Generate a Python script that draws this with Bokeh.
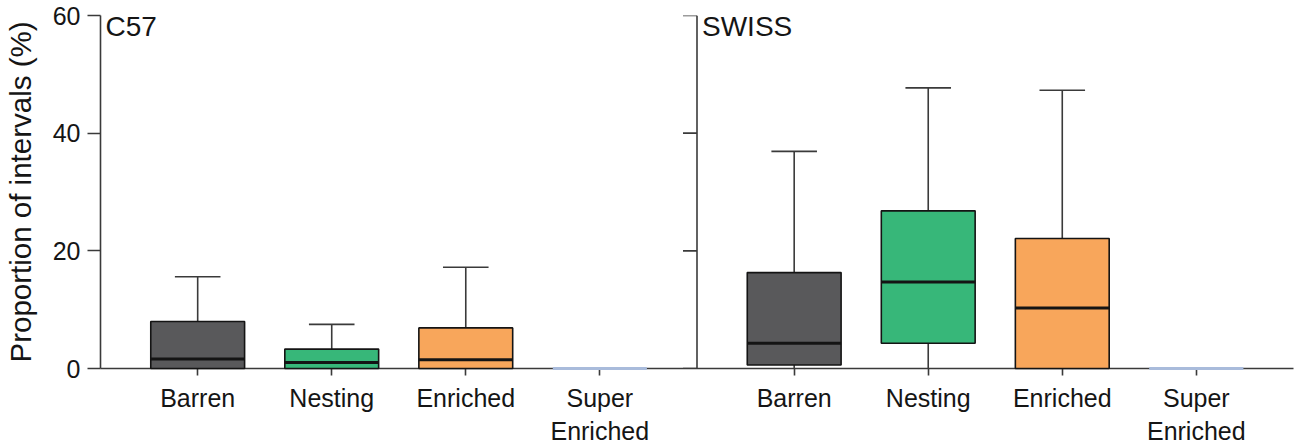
import numpy as np
from bokeh.plotting import figure
from bokeh.models import Span, Label, FixedTicker, Range1d
from bokeh.embed import file_html
from bokeh.resources import INLINE

# ---- data ----
panels = ["C57", "SWISS"]
categories = ["Barren", "Nesting", "Enriched", "Super\nEnriched"]
# box-plot summaries per category: lower whisker, Q1, median, Q3, upper whisker
c57_low = [0.0, 0.0, 0.0, 0.0]
c57_q1 = [0.0, 0.0, 0.0, 0.0]
c57_med = [1.6, 1.0, 1.5, 0.0]
c57_q3 = [8.0, 3.3, 6.9, 0.0]
c57_high = [15.6, 7.5, 17.2, 0.0]
swiss_low = [0.0, 0.0, 0.0, 0.0]
swiss_q1 = [0.6, 4.3, 0.0, 0.0]
swiss_med = [4.3, 14.7, 10.3, 0.0]
swiss_q3 = [16.3, 26.8, 22.1, 0.0]
swiss_high = [36.9, 47.7, 47.3, 0.0]
y_ticks = [0, 20, 40, 60]

# ---- styles ----
fill_colors = ["#59595b", "#37b779", "#f8a65b", "#a9bbdb"]
edge_colors = ["#141414", "#141414", "#141414", "#a9bbdb"]
FONT = "Liberation Sans"
TXT = "#151515"
AX = "#3a3a3a"
panel_width = 4.45
first_offset = 0.725
box_w = 0.70
cap_w = 0.34

p = figure(width=1296, height=448,
           x_range=Range1d(0, 2 * panel_width), y_range=Range1d(0, 60),
           output_backend="svg", toolbar_location=None,
           min_border_left=97, min_border_right=3,
           min_border_top=15, min_border_bottom=79)
p.grid.visible = False
p.outline_line_color = None
p.background_fill_color = "white"

stats = [(c57_low, c57_q1, c57_med, c57_q3, c57_high),
         (swiss_low, swiss_q1, swiss_med, swiss_q3, swiss_high)]

all_x = []
tick_labels = {}
for k, (low, q1, med, q3, high) in enumerate(stats):
    xs = k * panel_width + first_offset + np.arange(len(categories))
    low, q1, med, q3, high = map(np.array, (low, q1, med, q3, high))
    for x, c in zip(xs, categories):
        all_x.append(float(x))
        tick_labels[float(x)] = c
    has_w = high > q3
    # upper whiskers + caps
    p.segment(x0=xs[has_w], y0=q3[has_w], x1=xs[has_w], y1=high[has_w],
              line_color=AX, line_width=1.6)
    p.segment(x0=xs[has_w] - cap_w / 2, y0=high[has_w], x1=xs[has_w] + cap_w / 2,
              y1=high[has_w], line_color=AX, line_width=1.6)
    has_l = q1 > low
    p.segment(x0=xs[has_l], y0=low[has_l], x1=xs[has_l], y1=q1[has_l],
              line_color=AX, line_width=1.6)
    # boxes
    p.vbar(x=xs, width=box_w, bottom=q1, top=q3, fill_color=fill_colors,
           line_color=edge_colors, line_width=1.6, level="overlay")
    # medians
    p.segment(x0=xs - box_w / 2, y0=med, x1=xs + box_w / 2, y1=med,
              line_color=edge_colors, line_width=3, level="overlay")
    # panel label
    p.add_layout(Label(x=k * panel_width, y=60, text=panels[k], x_offset=5,
                       y_offset=-11, text_font=FONT, text_font_size="28px",
                       text_color=TXT, text_baseline="alphabetic"))

# second panel's y axis
p.add_layout(Span(location=panel_width, dimension="height", line_color=AX,
                  line_width=1.6))
p.ray(x=[panel_width] * len(y_ticks), y=y_ticks, length=14, length_units="screen",
      angle=np.pi, line_color=AX, line_width=1.6)

# axes
p.xaxis.ticker = FixedTicker(ticks=all_x)
p.xaxis.major_label_overrides = tick_labels
p.xaxis.minor_tick_line_color = None
p.xaxis.major_tick_in = 0
p.xaxis.major_tick_out = 7
p.xaxis.major_label_standoff = 8
p.xaxis.major_label_text_font = FONT
p.xaxis.major_label_text_font_size = "25px"
p.xaxis.major_label_text_color = TXT

p.yaxis.ticker = FixedTicker(ticks=y_ticks)
p.yaxis.minor_tick_line_color = None
p.yaxis.major_tick_in = 0
p.yaxis.major_tick_out = 13
p.yaxis.major_label_standoff = 7
p.yaxis.major_label_text_font = FONT
p.yaxis.major_label_text_font_size = "25px"
p.yaxis.major_label_text_color = TXT
p.yaxis.axis_label = "Proportion of intervals (%)"
p.yaxis.axis_label_text_font = FONT
p.yaxis.axis_label_text_font_size = "29.5px"
p.yaxis.axis_label_text_font_style = "normal"
p.yaxis.axis_label_text_color = TXT
p.yaxis.axis_label_standoff = 13

for ax in (p.xaxis, p.yaxis):
    ax.axis_line_color = AX
    ax.axis_line_width = 1.6
    ax.major_tick_line_color = AX
    ax.major_tick_line_width = 1.6

open("out.html", "w").write(file_html(p, INLINE))
